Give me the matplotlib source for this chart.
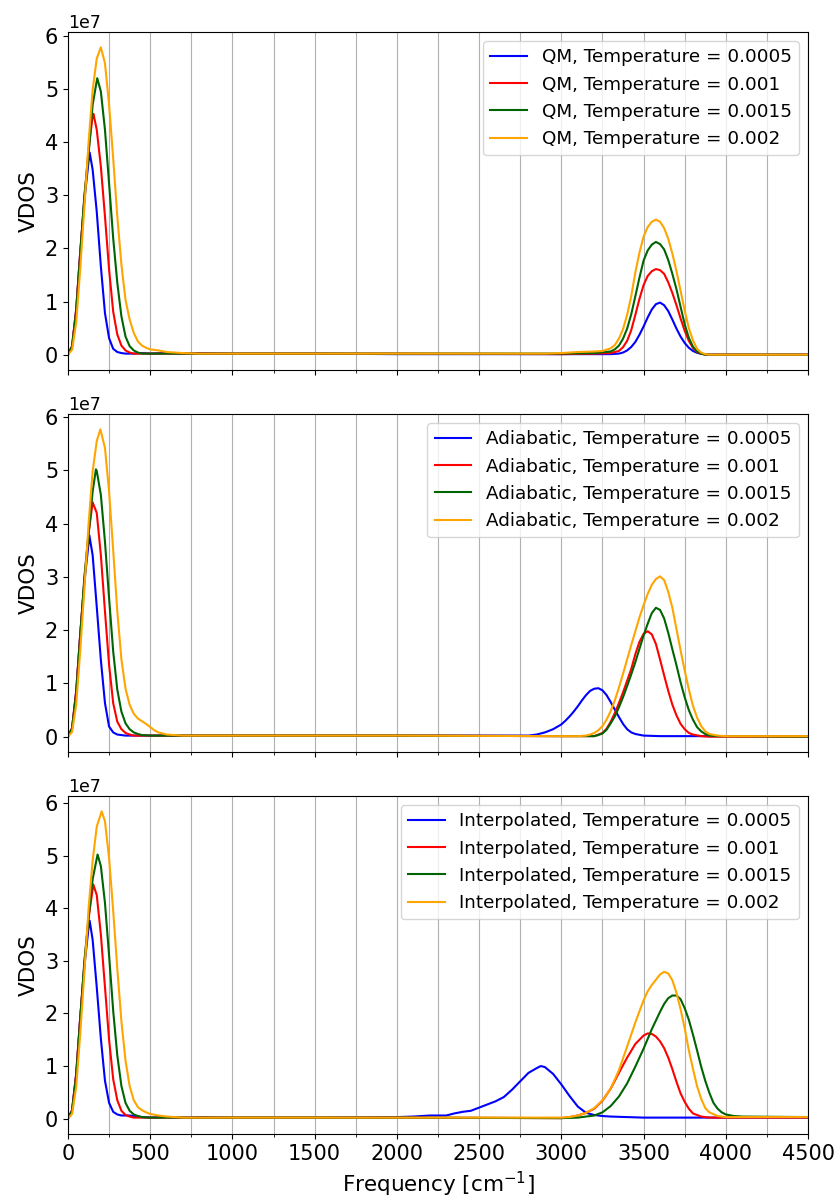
import matplotlib
matplotlib.use('Agg')
import matplotlib.pyplot as plt
from matplotlib.ticker import MultipleLocator

methods = ['QM', 'Adiabatic', 'Interpolated']
temperatures = ['0.0005', '0.001', '0.0015', '0.002']
colors = ['blue', 'red', 'darkgreen', 'orange']

# VDOS curves: (frequency in cm^-1, VDOS in units of 1e7)
qm_0005 = [(0, 0), (25, 0.16), (50, 0.85), (75, 1.94), (100, 2.91), (125, 3.63), (132, 3.80),
           (150, 3.48), (175, 2.69), (200, 1.66), (225, 0.78), (250, 0.31), (275, 0.11), (300, 0.05),
           (325, 0.03), (350, 0.02), (400, 0.02), (450, 0.03), (500, 0.02), (600, 0.03), (700, 0.02),
           (800, 0.03), (1000, 0.02), (1500, 0.02), (2000, 0.01), (2500, 0.01), (3000, 0.01), (3300, 0.01),
           (3350, 0.02), (3375, 0.04), (3400, 0.08), (3425, 0.145), (3450, 0.24), (3475, 0.375), (3500, 0.53),
           (3525, 0.70), (3550, 0.85), (3575, 0.95), (3600, 0.98), (3625, 0.93), (3650, 0.82), (3675, 0.66),
           (3700, 0.49), (3725, 0.34), (3750, 0.22), (3775, 0.13), (3800, 0.07), (3825, 0.035), (3850, 0.016),
           (3875, 0.006), (3900, 0.0), (4500, 0.0)]
qm_001 = [(0, 0), (25, 0.16), (50, 0.85), (75, 1.94), (100, 2.95), (125, 3.85), (150, 4.49), (155, 4.53),
          (175, 4.23), (200, 3.54), (225, 2.6), (250, 1.6), (275, 0.81), (300, 0.38), (325, 0.17), (350, 0.08),
          (375, 0.04), (400, 0.02), (500, 0.02), (700, 0.02), (1000, 0.02), (2000, 0.02), (3000, 0.01),
          (3200, 0.02), (3300, 0.03), (3350, 0.07), (3375, 0.14), (3400, 0.26), (3425, 0.46), (3450, 0.75),
          (3475, 1.05), (3500, 1.31), (3525, 1.48), (3550, 1.57), (3575, 1.61), (3600, 1.59), (3625, 1.52),
          (3650, 1.36), (3675, 1.16), (3700, 0.93), (3725, 0.68), (3750, 0.45), (3775, 0.26), (3800, 0.13),
          (3825, 0.05), (3850, 0.02), (3875, 0.0), (4500, 0.0)]
qm_0015 = [(0, 0), (25, 0.15), (50, 0.8), (75, 1.9), (100, 3.0), (125, 3.75), (150, 4.7), (178, 5.20),
           (200, 4.95), (225, 4.23), (250, 3.22), (275, 2.19), (300, 1.35), (325, 0.72), (350, 0.34),
           (375, 0.16), (400, 0.08), (425, 0.04), (450, 0.02), (500, 0.02), (800, 0.02), (1500, 0.02),
           (2500, 0.02), (3000, 0.02), (3200, 0.03), (3300, 0.06), (3325, 0.1), (3350, 0.17), (3375, 0.3),
           (3400, 0.49), (3425, 0.76), (3450, 1.1), (3475, 1.45), (3500, 1.77), (3525, 1.96), (3550, 2.07),
           (3575, 2.12), (3600, 2.08), (3625, 1.98), (3650, 1.78), (3675, 1.52), (3700, 1.23), (3725, 0.9),
           (3750, 0.57), (3775, 0.32), (3800, 0.15), (3825, 0.06), (3850, 0.02), (3875, 0.0), (4500, 0.0)]
qm_002 = [(0, 0), (25, 0.09), (50, 0.6), (75, 1.63), (100, 2.79), (125, 3.98), (150, 4.98), (175, 5.57),
          (200, 5.78), (225, 5.48), (250, 4.70), (275, 3.69), (300, 2.6), (325, 1.69), (350, 1.03),
          (375, 0.66), (400, 0.41), (425, 0.25), (450, 0.17), (475, 0.13), (500, 0.1), (550, 0.08),
          (600, 0.05), (700, 0.03), (800, 0.02), (1500, 0.02), (2500, 0.02), (2900, 0.02), (3000, 0.03),
          (3100, 0.05), (3200, 0.06), (3250, 0.07), (3300, 0.12), (3325, 0.18), (3350, 0.30), (3375, 0.48),
          (3400, 0.75), (3425, 1.1), (3450, 1.55), (3475, 1.92), (3500, 2.22), (3525, 2.40), (3550, 2.5),
          (3575, 2.54), (3600, 2.5), (3625, 2.38), (3650, 2.18), (3675, 1.9), (3700, 1.57), (3725, 1.2),
          (3750, 0.83), (3775, 0.5), (3800, 0.27), (3825, 0.11), (3850, 0.04), (3875, 0.01), (3900, 0.0),
          (4500, 0.0)]

ad_0005 = [(0, 0), (25, 0.16), (50, 0.85), (75, 1.94), (100, 2.91), (125, 3.62), (130, 3.78), (150, 3.41),
           (175, 2.44), (200, 1.44), (225, 0.63), (250, 0.19), (275, 0.08), (300, 0.04), (325, 0.03),
           (350, 0.02), (500, 0.02), (1000, 0.02), (2000, 0.02), (2500, 0.02), (2800, 0.02), (2850, 0.04),
           (2900, 0.08), (2950, 0.14), (3000, 0.23), (3025, 0.30), (3050, 0.38), (3075, 0.47), (3100, 0.57),
           (3125, 0.68), (3150, 0.78), (3175, 0.86), (3200, 0.90), (3225, 0.91), (3250, 0.87), (3275, 0.78),
           (3300, 0.65), (3325, 0.51), (3350, 0.37), (3375, 0.24), (3400, 0.14), (3425, 0.08), (3450, 0.05),
           (3500, 0.02), (3600, 0.01), (4500, 0.01)]
ad_001 = [(0, 0), (25, 0.16), (50, 0.85), (75, 1.94), (100, 2.95), (125, 3.8), (150, 4.40), (175, 4.2),
          (200, 3.41), (225, 2.35), (250, 1.35), (275, 0.63), (300, 0.28), (325, 0.14), (350, 0.07),
          (375, 0.04), (400, 0.02), (1000, 0.02), (2000, 0.02), (3000, 0.01), (3200, 0.01), (3250, 0.07),
          (3275, 0.15), (3300, 0.28), (3325, 0.44), (3350, 0.63), (3375, 0.83), (3400, 1.05), (3425, 1.27),
          (3450, 1.55), (3475, 1.78), (3500, 1.93), (3525, 1.98), (3550, 1.92), (3575, 1.74), (3600, 1.45),
          (3625, 1.15), (3650, 0.86), (3675, 0.60), (3700, 0.40), (3725, 0.24), (3750, 0.14), (3775, 0.07),
          (3800, 0.04), (3850, 0.01), (3900, 0.0), (4500, 0.0)]
ad_0015 = [(0, 0), (25, 0.15), (50, 0.8), (75, 1.9), (100, 3.0), (125, 3.8), (150, 4.6), (170, 5.02),
           (175, 4.99), (200, 4.54), (225, 3.66), (250, 2.6), (275, 1.6), (300, 0.88), (325, 0.47),
           (350, 0.25), (375, 0.14), (400, 0.08), (425, 0.05), (450, 0.03), (500, 0.02), (1000, 0.02),
           (2000, 0.02), (3000, 0.01), (3200, 0.01), (3225, 0.03), (3250, 0.06), (3275, 0.13), (3300, 0.25),
           (3325, 0.38), (3350, 0.55), (3375, 0.74), (3400, 0.95), (3425, 1.17), (3450, 1.40), (3475, 1.65),
           (3500, 1.90), (3525, 2.12), (3550, 2.32), (3575, 2.42), (3600, 2.38), (3625, 2.22), (3650, 1.95),
           (3675, 1.64), (3700, 1.34), (3725, 1.02), (3750, 0.74), (3775, 0.50), (3800, 0.32), (3825, 0.18),
           (3850, 0.10), (3875, 0.05), (3900, 0.02), (3950, 0.01), (4500, 0.0)]
ad_002 = [(0, 0), (25, 0.09), (50, 0.6), (75, 1.63), (100, 2.79), (125, 3.98), (150, 4.98), (175, 5.55),
          (197, 5.77), (225, 5.42), (250, 4.6), (275, 3.5), (300, 2.35), (325, 1.45), (350, 0.9), (375, 0.6),
          (400, 0.43), (425, 0.34), (450, 0.29), (475, 0.24), (500, 0.18), (525, 0.12), (550, 0.08),
          (600, 0.04), (700, 0.02), (1000, 0.02), (2000, 0.02), (3000, 0.01), (3100, 0.01), (3150, 0.02),
          (3175, 0.04), (3200, 0.07), (3225, 0.12), (3250, 0.2), (3275, 0.32), (3300, 0.48), (3325, 0.68),
          (3350, 0.92), (3375, 1.18), (3400, 1.45), (3425, 1.72), (3450, 1.98), (3475, 2.24), (3500, 2.47),
          (3525, 2.68), (3550, 2.85), (3575, 2.96), (3600, 3.01), (3625, 2.94), (3650, 2.72), (3675, 2.42),
          (3700, 2.02), (3725, 1.62), (3750, 1.24), (3775, 0.89), (3800, 0.58), (3825, 0.36), (3850, 0.2),
          (3875, 0.1), (3900, 0.05), (3950, 0.02), (4000, 0.01), (4500, 0.01)]

in_0005 = [(0, 0), (25, 0.16), (50, 0.85), (75, 1.94), (100, 2.91), (125, 3.62), (132, 3.76), (150, 3.4),
           (175, 2.5), (200, 1.52), (225, 0.72), (250, 0.3), (275, 0.13), (300, 0.08), (325, 0.06),
           (350, 0.06), (375, 0.06), (400, 0.05), (450, 0.03), (500, 0.02), (600, 0.03), (700, 0.02),
           (800, 0.03), (1000, 0.02), (1500, 0.02), (2000, 0.03), (2100, 0.04), (2150, 0.05), (2200, 0.06),
           (2300, 0.06), (2350, 0.1), (2400, 0.13), (2450, 0.15), (2500, 0.21), (2550, 0.27), (2600, 0.33),
           (2650, 0.41), (2700, 0.55), (2750, 0.71), (2800, 0.87), (2850, 0.96), (2875, 1.0), (2900, 0.98),
           (2950, 0.85), (3000, 0.65), (3050, 0.43), (3100, 0.23), (3150, 0.11), (3200, 0.07), (3250, 0.05),
           (3300, 0.04), (3400, 0.03), (3500, 0.02), (4500, 0.02)]
in_001 = [(0, 0), (25, 0.16), (50, 0.85), (75, 1.94), (100, 2.95), (125, 3.8), (154, 4.45), (175, 4.25),
          (200, 3.5), (225, 2.5), (250, 1.5), (275, 0.75), (300, 0.35), (325, 0.15), (350, 0.07), (375, 0.04),
          (400, 0.02), (1000, 0.02), (2000, 0.02), (3000, 0.01), (3050, 0.03), (3100, 0.06), (3150, 0.11),
          (3200, 0.19), (3250, 0.34), (3300, 0.57), (3350, 0.87), (3400, 1.16), (3450, 1.42), (3500, 1.58),
          (3525, 1.62), (3550, 1.61), (3575, 1.56), (3600, 1.47), (3625, 1.34), (3650, 1.16), (3675, 0.94),
          (3700, 0.7), (3725, 0.48), (3750, 0.32), (3775, 0.19), (3800, 0.1), (3850, 0.04), (3900, 0.02),
          (4500, 0.02)]
in_0015 = [(0, 0), (25, 0.15), (50, 0.8), (75, 1.9), (100, 3.0), (125, 3.8), (150, 4.55), (180, 5.02),
           (200, 4.8), (225, 4.1), (250, 3.1), (275, 2.05), (300, 1.2), (325, 0.62), (350, 0.3), (375, 0.15),
           (400, 0.08), (425, 0.05), (450, 0.03), (500, 0.02), (1000, 0.02), (2000, 0.02), (3000, 0.01),
           (3100, 0.02), (3150, 0.04), (3200, 0.06), (3250, 0.12), (3300, 0.24), (3350, 0.42), (3400, 0.67),
           (3450, 0.99), (3500, 1.33), (3550, 1.7), (3600, 2.03), (3625, 2.18), (3650, 2.29), (3675, 2.34),
           (3700, 2.34), (3725, 2.27), (3750, 2.1), (3775, 1.88), (3800, 1.6), (3825, 1.3), (3850, 0.99),
           (3875, 0.72), (3900, 0.49), (3925, 0.3), (3950, 0.19), (3975, 0.12), (4000, 0.08), (4050, 0.05),
           (4100, 0.04), (4500, 0.03)]
in_002 = [(0, 0), (25, 0.09), (50, 0.6), (75, 1.63), (100, 2.79), (125, 3.98), (150, 4.9), (175, 5.55),
          (205, 5.84), (225, 5.65), (250, 4.95), (275, 3.95), (300, 2.85), (325, 1.85), (350, 1.1),
          (375, 0.62), (400, 0.35), (425, 0.22), (450, 0.16), (475, 0.12), (500, 0.09), (550, 0.06),
          (600, 0.04), (700, 0.02), (1000, 0.02), (2000, 0.02), (3000, 0.02), (3050, 0.03), (3100, 0.06),
          (3150, 0.11), (3200, 0.2), (3250, 0.35), (3300, 0.57), (3350, 0.92), (3400, 1.37), (3450, 1.83),
          (3500, 2.25), (3525, 2.42), (3550, 2.54), (3575, 2.64), (3600, 2.74), (3625, 2.79), (3650, 2.76),
          (3675, 2.63), (3700, 2.39), (3725, 2.08), (3750, 1.72), (3775, 1.3), (3800, 0.95), (3825, 0.62),
          (3850, 0.38), (3875, 0.2), (3900, 0.12), (3950, 0.05), (4000, 0.03), (4500, 0.03)]

curves = {
    'QM': [qm_0005, qm_001, qm_0015, qm_002],
    'Adiabatic': [ad_0005, ad_001, ad_0015, ad_002],
    'Interpolated': [in_0005, in_001, in_0015, in_002],
}

plt.rcParams['xtick.labelsize'] = 15
plt.rcParams['ytick.labelsize'] = 15
plt.rcParams['axes.labelsize'] = 15.5
plt.rcParams['legend.fontsize'] = 13.2

fig, axes = plt.subplots(3, 1, figsize=(8.37, 11.98), sharex=True)
fig.subplots_adjust(left=0.0812, right=0.9654, bottom=0.0534, top=0.9733, hspace=0.13)

for ax, method in zip(axes, methods):
    for temp, color, data in zip(temperatures, colors, curves[method]):
        freq = [p[0] for p in data]
        vdos = [p[1] * 1e7 for p in data]
        ax.plot(freq, vdos, color=color, lw=1.5, label=f'{method}, Temperature = {temp}')
    ax.set_ylabel('VDOS')
    ax.xaxis.set_major_locator(MultipleLocator(500))
    ax.xaxis.set_minor_locator(MultipleLocator(250))
    ax.grid(axis='x', which='both')
    ax.legend(loc='upper right')
    ax.yaxis.get_offset_text().set_fontsize(12.5)

axes[-1].set_xlim(0, 4500)
axes[-1].set_xlabel('Frequency [cm$^{-1}$]')

fig.savefig('out.png', dpi=100)
